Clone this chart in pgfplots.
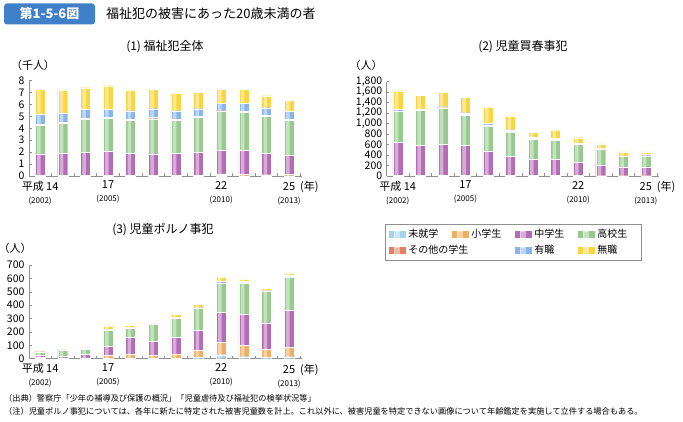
\documentclass[border=0pt]{standalone}
\usepackage{fontspec}
\setmainfont{Noto Sans CJK JP}
\usepackage{pgfplots}
\usepackage{pgfplotstable}
\pgfplotsset{compat=1.18}

\definecolor{cPre}{HTML}{A3D2EA}
\definecolor{cEle}{HTML}{EFAE62}
\definecolor{cMid}{HTML}{B36CB5}
\definecolor{cHigh}{HTML}{98CA90}
\definecolor{cOth}{HTML}{E2805F}
\definecolor{cEmp}{HTML}{88B6EA}
\definecolor{cNone}{HTML}{F8D640}
\definecolor{boxblue}{HTML}{3F80C8}
\definecolor{axgray}{HTML}{909090}

% (1) welfare crimes total (thousand persons)
\pgfplotstableread{
x pre ele mid high oth emp none
0 0.01 0.05 1.81 2.41 0.10 0.82 2.10
1 0.01 0.05 1.87 2.52 0.10 0.74 1.93
2 0.01 0.05 1.93 2.79 0.10 0.72 1.81
3 0.01 0.06 2.00 2.77 0.09 0.67 1.98
4 0.01 0.07 1.85 2.74 0.08 0.73 1.74
5 0.01 0.06 1.80 2.94 0.09 0.75 1.65
6 0.01 0.06 1.86 2.77 0.10 0.68 1.48
7 0.02 0.08 1.91 2.91 0.08 0.65 1.40
8 0.03 0.14 1.98 3.25 0.08 0.62 1.17
9 0.02 0.12 1.99 3.24 0.08 0.65 1.17
10 0.02 0.09 1.79 3.10 0.10 0.63 1.01
11 0.02 0.10 1.61 2.94 0.10 0.63 0.95
}\tabA

% (2) child prostitution
\pgfplotstableread{
x pre ele mid high oth emp none
0 0 15 621 592 15 35 350
1 0 12 573 662 8 17 273
2 0 10 588 693 12 20 273
3 0 12 573 579 14 30 293
4 0 10 467 477 15 30 318
5 0 8 361 471 14 30 254
6 0 8 304 394 12 20 95
7 0 8 304 375 13 25 153
8 0 7 260 331 8 17 108
9 0 5 205 299 7 12 83
10 0 5 160 210 3 4 76
11 0 5 161 216 5 33 38
}\tabB

% (3) child pornography
\pgfplotstableread{
x pre ele mid high oth emp none
0 3 6 19 22 2 3 5
1 2 5 15 42 0 1 1
2 2 5 25 38 1 3 6
3 5 20 70 120 3 5 22
4 5 30 127 65 3 6 17
5 4 23 103 127 3 5 9
6 5 27 130 142 3 6 21
7 10 50 154 160 2 5 23
8 30 92 222 220 3 13 31
9 15 85 232 234 3 7 20
10 10 62 197 236 3 5 15
11 15 70 274 252 3 10 17
}\tabC

\newcommand{\yr}[1]{\\[1pt]{\fontsize{8}{8}\selectfont (#1)}}

\pgfplotsset{
  shd/.style={fill=#1, draw=white, line width=0.35pt},
  base/.style={
    scale only axis,
    ybar stacked, bar width=10pt,
    xmin=-0.49, xmax=11.57, ymin=0,
    axis x line*=bottom, axis y line*=left,
    axis line style={draw=axgray, line width=0.8pt, -},
    tick align=inside,
    xtick={0,3,8,11},
    xticklabels={{平成 14\yr{2002}},{17\yr{2005}},{22\yr{2010}},{25\rlap{\hspace{5pt}(年)}\yr{2013}}},
    major x tick style={draw=none},
    minor xtick={0.5,1.5,...,11.5},
    minor tick length=3pt,
    minor x tick style={draw=axgray, line width=0.6pt},
    ytick style={draw=axgray, line width=0.5pt},
    major tick length=2.5pt,
    xticklabel style={align=center, font=\fontsize{11}{12}\selectfont, text=black, yshift=-1.5pt},
    yticklabel style={font=\fontsize{10.5}{10.5}\selectfont, text=black, xshift=-1pt},
    /pgf/number format/assume math mode=true,
    clip=false,
  },
  hl/.style={
    scale only axis, hide axis,
    ybar stacked, bar width=3.5pt, bar shift=-1.2pt,
    xmin=-0.49, xmax=11.57, ymin=0, clip=false,
  },
  stripe/.style={fill=white, fill opacity=0.45, draw=none},
}

\newcommand{\series}[1]{%
\addplot[shd=cPre] table[x=x,y=pre]{#1};
\addplot[shd=cEle] table[x=x,y=ele]{#1};
\addplot[shd=cMid] table[x=x,y=mid]{#1};
\addplot[shd=cHigh] table[x=x,y=high]{#1};
\addplot[shd=cOth] table[x=x,y=oth]{#1};
\addplot[shd=cEmp] table[x=x,y=emp]{#1};
\addplot[shd=cNone] table[x=x,y=none]{#1};
}
\newcommand{\stripes}[1]{%
\addplot[stripe] table[x=x,y=pre]{#1};
\addplot[stripe] table[x=x,y=ele]{#1};
\addplot[stripe] table[x=x,y=mid]{#1};
\addplot[stripe] table[x=x,y=high]{#1};
\addplot[stripe] table[x=x,y=oth]{#1};
\addplot[stripe] table[x=x,y=emp]{#1};
\addplot[stripe] table[x=x,y=none]{#1};
}

\begin{document}
\begin{tikzpicture}[x=1pt,y=1pt]
\path[use as bounding box, fill=white] (0,0) rectangle (683,422);

% header
\node[fill=boxblue, rounded corners=3pt, text=white, minimum width=91pt, minimum height=21pt, inner sep=0pt, font=\fontsize{13}{13}\selectfont\bfseries] at (49.5,408) {第1-5-6図};
\node[anchor=west, font=\fontsize{13}{13}\selectfont, inner sep=0pt] at (106,408) {福祉犯の被害にあった20歳未満の者};

% subtitles and units
\node[font=\fontsize{12}{12}\selectfont] at (165,375) {(1) 福祉犯全体};
\node[font=\fontsize{12}{12}\selectfont] at (523,375) {(2) 児童買春事犯};
\node[font=\fontsize{12}{12}\selectfont] at (163,192) {(3) 児童ポルノ事犯};
\node[font=\fontsize{11}{11}\selectfont] at (33,357) {（千人）};
\node[font=\fontsize{11}{11}\selectfont] at (366,357) {（人）};
\node[font=\fontsize{11}{11}\selectfont] at (15,174) {（人）};

% (1)
\begin{axis}[base, at={(29pt,246pt)}, anchor=south west, width=273pt, height=95.3pt,
  ymax=8, ytick={0,1,...,8}]
\series{\tabA}
\end{axis}
\begin{axis}[hl, at={(29pt,246pt)}, anchor=south west, width=273pt, height=95.3pt, ymax=8]
\stripes{\tabA}
\end{axis}

% (2)
\begin{axis}[base, at={(386.7pt,246pt)}, anchor=south west, width=272pt, height=94.3pt,
  ymax=1800, ytick={0,200,...,1800}]
\series{\tabB}
\end{axis}
\begin{axis}[hl, at={(386.7pt,246pt)}, anchor=south west, width=272pt, height=94.3pt, ymax=1800]
\stripes{\tabB}
\end{axis}

% (3)
\begin{axis}[base, at={(29pt,63.3pt)}, anchor=south west, width=273pt, height=93.7pt,
  ymax=700, ytick={0,100,...,700},
  legend columns=4,
  legend cell align=left,
  legend image code/.code={\fill[#1,draw=none] (0pt,-3.5pt) rectangle (17pt,3.5pt);
     \fill[white, opacity=0.45] (5pt,-3.5pt) rectangle (10pt,3.5pt);},
  legend style={at={(1.304,1.4376)}, anchor=north west, draw=axgray, line width=0.6pt,
    font=\fontsize{10}{10}\selectfont, inner xsep=4pt, inner ysep=3pt, row sep=2pt,
    /tikz/every even column/.append style={column sep=4pt}},
]
\addplot[shd=cPre] table[x=x,y=pre]{\tabC};
\addlegendentry{\makebox[38pt][l]{未就学}}
\addplot[shd=cEle] table[x=x,y=ele]{\tabC};
\addlegendentry{\makebox[38pt][l]{小学生}}
\addplot[shd=cMid] table[x=x,y=mid]{\tabC};
\addlegendentry{\makebox[38pt][l]{中学生}}
\addplot[shd=cHigh] table[x=x,y=high]{\tabC};
\addlegendentry{\makebox[38pt][l]{高校生}}
\addplot[shd=cOth] table[x=x,y=oth]{\tabC};
\addlegendentry{\makebox[38pt][l]{その他の学生}}
\addlegendimage{empty legend}
\addlegendentry{}
\addplot[shd=cEmp] table[x=x,y=emp]{\tabC};
\addlegendentry{\makebox[38pt][l]{有職}}
\addplot[shd=cNone] table[x=x,y=none]{\tabC};
\addlegendentry{\makebox[38pt][l]{無職}}
\end{axis}
\begin{axis}[hl, at={(29pt,63.3pt)}, anchor=south west, width=273pt, height=93.7pt, ymax=700]
\stripes{\tabC}
\end{axis}

% footnotes
\node[anchor=west, inner sep=0pt, font=\fontsize{8.2}{8.2}\selectfont] at (4,24) {（出典）警察庁「少年の補導及び保護の概況」「児童虐待及び福祉犯の検挙状況等」};
\node[anchor=west, inner sep=0pt, font=\fontsize{8.2}{8.2}\selectfont] at (4,11) {（注）児童ポルノ事犯については、各年に新たに特定された被害児童数を計上。これ以外に、被害児童を特定できない画像について年齢鑑定を実施して立件する場合もある。};
\end{tikzpicture}
\end{document}
